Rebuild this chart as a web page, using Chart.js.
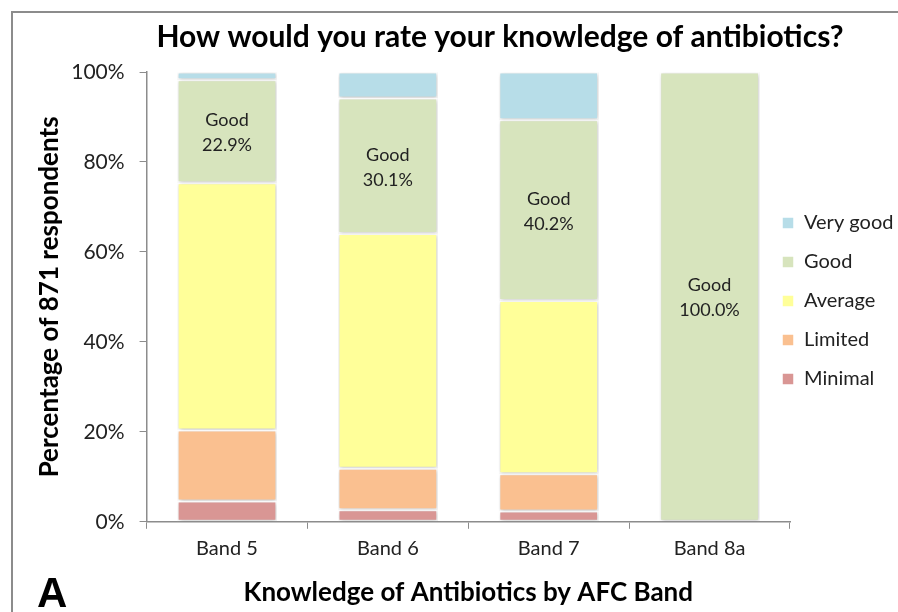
<!DOCTYPE html>
<html>
<head>
<meta charset="utf-8">
<script src="https://cdn.jsdelivr.net/npm/chart.js@4.4.1/dist/chart.umd.min.js"></script>
<style>
  html, body { margin: 0; padding: 0; background: #fff; }
  #wrap { width: 898px; height: 612px; position: relative; }
</style>
</head>
<body>
<div id="wrap"><canvas id="grafica" width="898" height="612"></canvas></div>
<script>
// datos (porcentaje de respuestas por banda)
const bandas = ["Band 5", "Band 6", "Band 7", "Band 8a"];
const minimal = [4.6, 2.7, 2.4, 0];
const limited = [15.8, 9.2, 8.3, 0];
const average = [55.0, 52.2, 38.5, 0];
const good = [22.9, 30.1, 40.2, 100.0];
const veryGood = [1.7, 5.8, 10.6, 0];
const yTicks = [0, 20, 40, 60, 80, 100];

const fuente = "Lato, 'Open Sans', sans-serif";

// marco gris, letra "A", y ajustes de posicion de titulo y leyenda
const marco = {
  id: "marco",
  beforeDraw(chart) {
    const ctx = chart.ctx;
    ctx.save();
    ctx.fillStyle = "#fff";
    ctx.fillRect(0, 0, chart.width, chart.height);
    ctx.strokeStyle = "#8c8c8c";
    ctx.lineWidth = 2;
    ctx.strokeRect(12, 12, 1000, 1000);
    ctx.restore();
    // la leyenda del original queda casi pegada al eje
    if (chart.legend && !chart.legend._movido) {
      chart.legend.left -= 27;
      chart.legend.top -= 6;
      chart.legend._movido = true;
    }
    // el titulo original esta centrado mas a la derecha
    if (chart.titleBlock && !chart.titleBlock._movido) {
      chart.titleBlock.left += 43;
      chart.titleBlock.right += 43;
      chart.titleBlock._movido = true;
    }
  },
  afterDraw(chart) {
    const ctx = chart.ctx;
    ctx.save();
    ctx.fillStyle = "#000";
    ctx.font = "bold 42px 'Liberation Sans', Arial, sans-serif";
    ctx.textBaseline = "alphabetic";
    ctx.fillText("A", 37, 607);
    ctx.restore();
  }
};

// sombra suave de las barras
const sombra = {
  id: "sombra",
  beforeDatasetsDraw(chart) {
    const ctx = chart.ctx;
    ctx.save();
    ctx.shadowColor = "rgba(0,0,0,0.22)";
    ctx.shadowBlur = 4;
    ctx.shadowOffsetX = 1;
    ctx.shadowOffsetY = 1;
  },
  afterDatasetsDraw(chart) {
    chart.ctx.restore();
  }
};

// etiquetas "Good xx.x%" dentro del segmento Good
const etiquetas = {
  id: "etiquetas",
  afterDatasetsDraw(chart) {
    const ctx = chart.ctx;
    const idx = chart.data.datasets.findIndex((d) => d.label === "Good");
    const meta = chart.getDatasetMeta(idx);
    ctx.save();
    ctx.fillStyle = "#222";
    ctx.font = "18px " + fuente;
    ctx.textAlign = "center";
    ctx.textBaseline = "middle";
    meta.data.forEach((bar, i) => {
      const v = good[i];
      if (!v) return;
      const cy = (bar.y + bar.base) / 2;
      ctx.fillText("Good", bar.x, cy - 11);
      ctx.fillText(v.toFixed(1) + "%", bar.x, cy + 14);
    });
    ctx.restore();
  }
};

function serie(label, data, color) {
  return {
    label: label,
    data: data,
    backgroundColor: color,
    borderColor: "#ffffff",
    borderWidth: 1.5,
    borderSkipped: false,
    barPercentage: 0.62,
    categoryPercentage: 1.0
  };
}

new Chart(document.getElementById("grafica").getContext("2d"), {
  type: "bar",
  data: {
    labels: bandas,
    datasets: [
      serie("Minimal", minimal, "#d99694"),
      serie("Limited", limited, "#fac090"),
      serie("Average", average, "#ffff99"),
      serie("Good", good, "#d7e4bd"),
      serie("Very good", veryGood, "#b7dde8")
    ]
  },
  options: {
    responsive: false,
    animation: false,
    layout: { padding: { left: 16, right: 0, top: 0, bottom: 4 } },
    plugins: {
      title: {
        display: true,
        text: "How would you rate your knowledge of antibiotics?",
        color: "#000",
        font: { family: fuente, size: 30, weight: "bold" },
        padding: { top: 19, bottom: 17 }
      },
      legend: {
        position: "right",
        reverse: true,
        maxWidth: 108,
        labels: {
          color: "#222",
          font: { family: fuente, size: 20 },
          boxWidth: 12,
          boxHeight: 12,
          padding: 19
        }
      },
      tooltip: { enabled: false }
    },
    scales: {
      x: {
        stacked: true,
        grid: {
          display: true,
          drawOnChartArea: false,
          drawTicks: true,
          tickLength: 7,
          color: "#8c8c8c",
          offset: true
        },
        border: { color: "#8c8c8c", width: 1.5 },
        ticks: { color: "#222", font: { family: fuente, size: 20 }, padding: 8 },
        title: {
          display: true,
          text: "Knowledge of Antibiotics by AFC Band",
          color: "#000",
          font: { family: fuente, size: 26, weight: "bold" },
          padding: { top: 8, bottom: 0 }
        }
      },
      y: {
        stacked: true,
        min: 0,
        max: 100,
        afterBuildTicks(scale) {
          scale.ticks = yTicks.map((v) => ({ value: v }));
        },
        grid: {
          display: true,
          drawOnChartArea: false,
          drawTicks: true,
          tickLength: 7,
          color: "#8c8c8c"
        },
        border: { color: "#8c8c8c", width: 1.5 },
        ticks: {
          color: "#222",
          font: { family: fuente, size: 21 },
          padding: 15,
          callback: (v) => v + "%"
        },
        title: {
          display: true,
          text: "Percentage of 871 respondents",
          color: "#000",
          font: { family: fuente, size: 26, weight: "bold" },
          padding: { top: 18, bottom: -9 }
        }
      }
    }
  },
  plugins: [marco, sombra, etiquetas]
});
</script>
</body>
</html>
